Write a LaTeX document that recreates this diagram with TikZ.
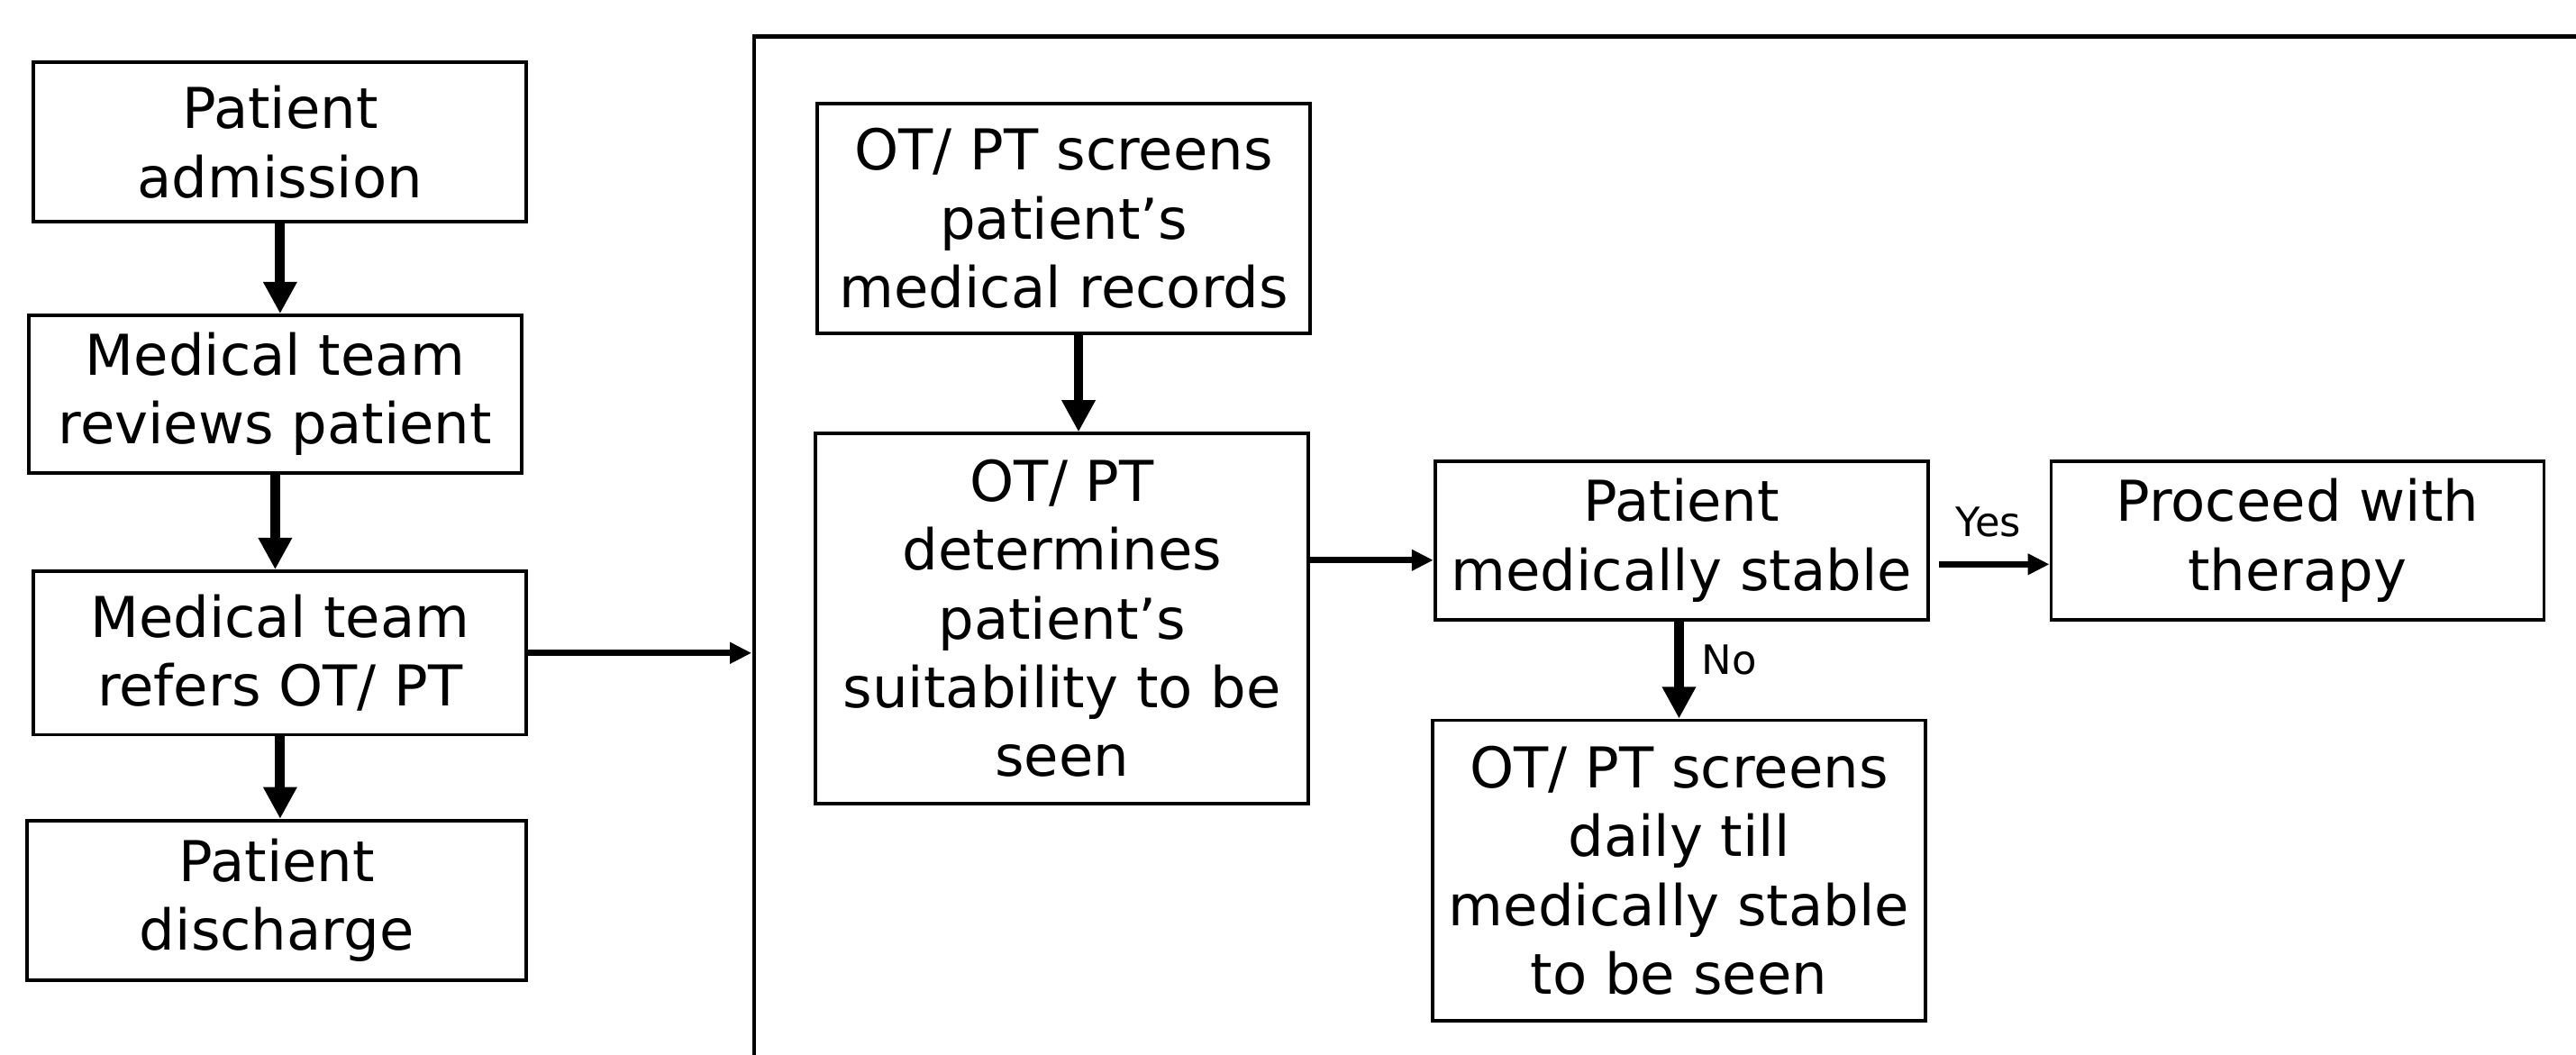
\documentclass[tikz,border=0pt]{standalone}
\usepackage{fontspec}
\setmainfont{DejaVu Sans}
\usetikzlibrary{arrows.meta}

\tikzset{
  box/.style={draw, line width=1.2pt, align=center, minimum width=6cm,
    font=\fontsize{19.5}{23.8}\selectfont},
  varr/.style={line width=3.4pt, -{Triangle[length=11pt,width=11pt]}},
  harr/.style={line width=2.2pt, -{Triangle[length=7.5pt,width=7pt]}},
  lbl/.style={font=\fontsize{14}{16}\selectfont}
}

\begin{document}
\begin{tikzpicture}
\clip (0,0) rectangle (31.36,12.84);
% ward side
\node[box,minimum height=1.94cm] (admit) at (3.41,11.11) {Patient\\admission};
\node[box,minimum height=1.92cm] (review) at (3.35,8.04) {Medical team\\reviews patient};
\node[box,minimum height=1.99cm] (refer) at (3.41,4.89) {Medical team\\refers OT/ PT};
\node[box,minimum height=1.94cm,minimum width=6.08cm] (discharge) at (3.37,1.88) {Patient\\discharge};
\draw[varr] (admit) -- (admit |- review.north);
\draw[varr] (review) -- (review |- refer.north);
\draw[varr] (refer) -- (refer |- discharge.north);
% therapy side
\draw[line width=1.5pt] (9.18,-1) |- (33,12.40);
\coordinate (fin) at (9.15,0);
\draw[harr] (refer) -- (refer -| fin);
\node[box,minimum height=2.8cm] (screens) at (12.95,10.18) {OT/ PT screens\\patient’s\\medical records};
\node[box,minimum height=4.5cm] (determines) at (12.93,5.31) {OT/ PT\\determines\\patient’s\\suitability to be\\seen};
\node[box,minimum height=1.93cm] (stable) at (20.47,6.26) {Patient\\medically stable};
\node[box,minimum height=1.93cm] (proceed) at (27.97,6.26) {Proceed with\\therapy};
\node[box,minimum height=3.66cm] (daily) at (20.44,2.24) {OT/ PT screens\\daily till\\medically stable\\to be seen};
\coordinate (s1) at ([xshift=1.8mm]screens.south);
\draw[varr] (s1) -- (s1 |- determines.north);
\coordinate (s2) at ([yshift=-2.4mm]stable.west);
\draw[harr] (determines.east |- s2) -- (s2);
\coordinate (s3) at ([yshift=-2.9mm]proceed.west);
\coordinate (s4) at ([xshift=1.1mm]stable.east);
\draw[harr] (s4 |- s3) -- (s3) node[lbl,pos=0.45,above=1.8mm] {Yes};
\draw[varr] (stable.south -| daily) -- (daily) node[lbl,pos=0.4,right=1mm] {No};
\end{tikzpicture}
\end{document}
